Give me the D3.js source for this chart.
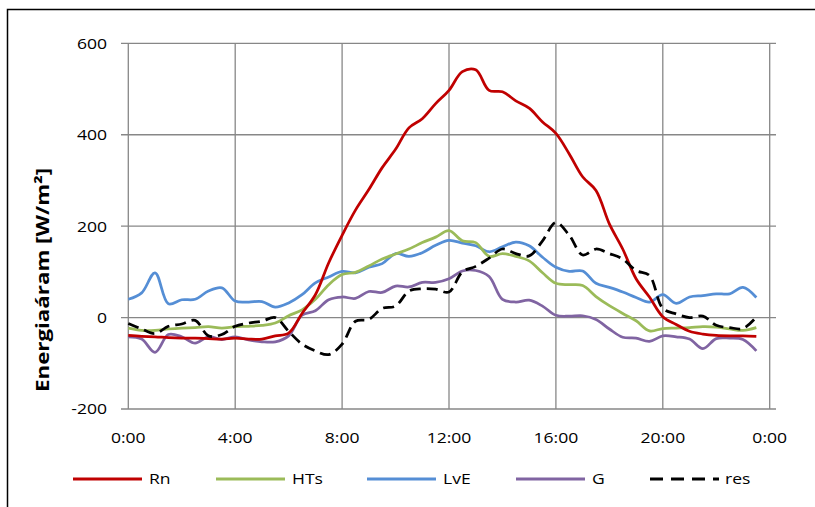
<!DOCTYPE html>
<html>
<head>
<meta charset="utf-8">
<script src="https://cdnjs.cloudflare.com/ajax/libs/d3/7.8.5/d3.min.js"></script>
<style>
  body { margin: 0; background: #fff; }
  svg { display: block; }
  .tick-label { font-family: "Open Sans", "Liberation Sans", sans-serif; font-size: 15px; fill: #000; }
</style>
</head>
<body>
<div id="chart"></div>
<script>
// half-hourly readings, 0:00 .. 23:30
const hours = d3.range(0, 24, 0.5);

const Rn = [-39, -41, -42, -44, -45, -45, -46, -47, -45, -47, -47, -40, -34, 9, 50, 120,
  180, 235, 280, 328, 368, 415, 435, 468, 497, 538, 542, 497, 494, 474, 458, 428,
  403, 358, 308, 278, 205, 150, 85, 45, 2, -15, -30, -36, -39, -40, -40, -41];
const HTs = [-23, -28, -28, -25, -23, -22, -20, -23, -20, -19, -17, -12, 4, 17, 40, 72,
  94, 99, 113, 128, 139, 150, 164, 176, 190, 168, 164, 134, 140, 134, 124, 98,
  75, 72, 70, 46, 26, 9, -7, -29, -24, -23, -22, -20, -21, -25, -28, -22];
const LvE = [40, 54, 98, 30, 39, 40, 58, 65, 36, 34, 35, 23, 32, 50, 76, 89,
  101, 98, 110, 118, 140, 134, 142, 158, 169, 163, 157, 144, 155, 165, 157, 132,
  110, 101, 102, 75, 66, 56, 44, 34, 50, 31, 45, 48, 52, 52, 66, 44];
const G = [-42, -47, -76, -37, -42, -56, -42, -48, -42, -49, -53, -53, -40, 5, 15, 39,
  45, 42, 57, 55, 69, 67, 77, 77, 85, 102, 103, 90, 40, 34, 38, 25,
  5, 3, 4, -4, -25, -43, -45, -52, -40, -42, -47, -68, -46, -45, -48, -73];
const res = [-13, -25, -35, -19, -14, -6, -40, -37, -19, -12, -8, 0, -30, -58, -73, -81,
  -58, -8, -4, 20, 25, 58, 63, 62, 56, 100, 112, 130, 150, 140, 135, 168,
  208, 180, 137, 150, 140, 128, 103, 92, 20, 8, 0, 3, -17, -22, -24, 1];

const seriesNames = ["Rn", "HTs", "LvE", "G", "res"];
const seriesColors = ["#c00000", "#9bbb59", "#558ed5", "#8064a2", "#000000"];
const yTicks = [-200, 0, 200, 400, 600];
const xTicks = [0, 4, 8, 12, 16, 20, 24];
const xTickLabels = ["0:00", "4:00", "8:00", "12:00", "16:00", "20:00", "0:00"];

const width = 815, height = 507;
// the original text is a bit wider than our fonts, stretch it sideways
const textStretch = 1.17;

const svg = d3.select("#chart").append("svg")
  .attr("width", width)
  .attr("height", height);

// chart frame (runs off the right/bottom edge in the original)
svg.append("rect")
  .attr("x", 7.5).attr("y", 9.5)
  .attr("width", 900).attr("height", 600)
  .attr("fill", "none")
  .attr("stroke", "#000")
  .attr("stroke-width", 1.5);

const xScale = d3.scaleLinear().domain([0, 24]).range([128.3, 769.7]);
const yScale = d3.scaleLinear().domain([-200, 600]).range([409, 43.3]);

// horizontal gridlines + left tick marks
svg.selectAll(".hgrid")
  .data(yTicks)
  .enter()
  .append("line")
  .attr("x1", 121).attr("x2", 776)
  .attr("y1", d => yScale(d)).attr("y2", d => yScale(d))
  .attr("stroke", "#878787")
  .attr("stroke-width", 1.3);

// vertical gridlines
svg.selectAll(".vgrid")
  .data(xTicks)
  .enter()
  .append("line")
  .attr("x1", d => xScale(d)).attr("x2", d => xScale(d))
  .attr("y1", yScale(600)).attr("y2", yScale(-200))
  .attr("stroke", "#878787")
  .attr("stroke-width", 1.3);

// y tick labels
svg.selectAll(".ylab")
  .data(yTicks)
  .enter()
  .append("text")
  .attr("class", "tick-label")
  .attr("transform", d => `translate(107,${yScale(d)}) scale(${textStretch},1)`)
  .attr("dy", "0.36em")
  .attr("text-anchor", "end")
  .text(d => d);

// x tick labels
svg.selectAll(".xlab")
  .data(xTicks)
  .enter()
  .append("text")
  .attr("class", "tick-label")
  .attr("transform", d => `translate(${xScale(d)},443) scale(${textStretch},1)`)
  .attr("text-anchor", "middle")
  .text((d, i) => xTickLabels[i]);

// y axis title
svg.append("text")
  .attr("transform", "translate(49,280) rotate(-90) scale(1.24,1)")
  .attr("text-anchor", "middle")
  .style("font-family", "Open Sans, Liberation Sans, sans-serif")
  .style("font-size", "18px")
  .style("font-weight", "bold")
  .text("Energiaáram [W/m²]");

const lineGen = d3.line()
  .x((d, i) => xScale(hours[i]))
  .y(d => yScale(d))
  .curve(d3.curveCatmullRom.alpha(0.5));

const allSeries = [Rn, HTs, LvE, G, res];
// draw G, LvE, HTs, Rn first, res on top like the original
[3, 2, 1, 0, 4].forEach(i => {
  svg.append("path")
    .datum(allSeries[i])
    .attr("d", lineGen)
    .attr("fill", "none")
    .attr("stroke", seriesColors[i])
    .attr("stroke-width", 2.75)
    .attr("stroke-linejoin", "round")
    .attr("stroke-dasharray", seriesNames[i] === "res" ? "11,6" : null);
});

// legend
const legendX = [73, 216, 367, 516, 650];
const legend = svg.selectAll(".legend")
  .data(seriesNames)
  .enter()
  .append("g")
  .attr("transform", (d, i) => `translate(${legendX[i]},479)`);

legend.append("line")
  .attr("x1", 0).attr("x2", 69)
  .attr("y1", 0).attr("y2", 0)
  .attr("stroke", (d, i) => seriesColors[i])
  .attr("stroke-width", 3)
  .attr("stroke-dasharray", d => d === "res" ? "13,8" : null);

legend.append("text")
  .attr("class", "tick-label")
  .attr("transform", d => `translate(${d === "res" ? 75 : 76},0) scale(${textStretch},1)`)
  .attr("dy", "0.36em")
  .text(d => d);
</script>
</body>
</html>
